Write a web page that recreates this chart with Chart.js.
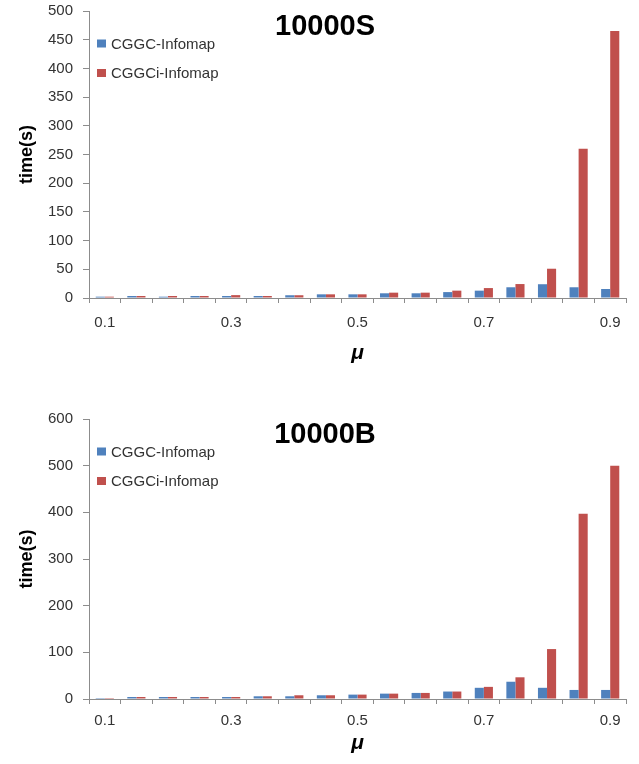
<!DOCTYPE html>
<html>
<head>
<meta charset="utf-8">
<script src="https://cdn.jsdelivr.net/npm/chart.js@4"></script>
<style>
  html, body { margin: 0; padding: 0; background: #fff; }
  .box { position: absolute; left: 0; width: 639px; height: 382px; }
</style>
</head>
<body>
<div class="box" style="top:0"><canvas id="c1"></canvas></div>
<div class="box" style="top:382px"><canvas id="c2"></canvas></div>
<script>
// ---- data ----
const categories = ['0.1','0.15','0.2','0.25','0.3','0.35','0.4','0.45','0.5','0.55','0.6','0.65','0.7','0.75','0.8','0.85','0.9'];
const tickLabels = ['0.1','0.3','0.5','0.7','0.9'];
const seriesNames = ['CGGC-Infomap', 'CGGCi-Infomap'];

const titleS = '10000S';
const cggcS  = [2.3, 3.5, 2.3, 3.5, 3.5, 3.5, 4.8, 6.4, 6.4, 8.2, 8.2, 10.3, 12.8, 18.7, 24, 18.7, 15.7];
const cggciS = [2.3, 3.5, 3.5, 3.5, 5.0, 3.5, 4.8, 6.4, 6.4, 9.3, 9.3, 12.8, 17.3, 24.3, 51, 260, 465];
const yTicksS = { max: 500, step: 50 };

const titleB = '10000B';
const cggcB  = [2, 4.3, 4.3, 4.3, 4.3, 5.8, 5.8, 8, 9.4, 11.5, 13, 16, 24, 37, 24, 19.4, 19.4];
const cggciB = [2, 4.3, 4.3, 4.3, 4.3, 5.8, 8, 8, 9.4, 11.5, 13, 16, 26, 46.5, 107, 397, 500];
const yTicksB = { max: 600, step: 100 };

const yTitle = 'time(s)';
const xTitle = 'μ';

// ---- styles ----
const BLUE = '#4F81BD', RED = '#C0504D';
const AXIS = '#8c8c8c', TXT = '#333333';
const FONT = '"Liberation Sans", Arial, sans-serif';

const overlay = {
  id: 'overlay',
  afterDraw(chart, args, opts) {
    const { ctx, chartArea } = chart;
    ctx.save();
    ctx.font = 'bold 29px ' + FONT;
    ctx.fillStyle = '#000';
    ctx.textAlign = 'center';
    ctx.textBaseline = 'middle';
    ctx.fillText(opts.title, 325, chartArea.top + 16);
    chart.data.datasets.forEach((ds, i) => {
      const y = chartArea.top + 32.5 + i * 29.5;
      ctx.fillStyle = ds.backgroundColor;
      ctx.fillRect(chartArea.left + 8, y - 4, 9, 8);
      ctx.fillStyle = TXT;
      ctx.font = '15px ' + FONT;
      ctx.textAlign = 'left';
      ctx.fillText(ds.label, chartArea.left + 22, y + 1);
    });
    ctx.restore();
  }
};

function makeChart(id, title, a, b, yt, cfg) {
  return new Chart(document.getElementById(id), {
    type: 'bar',
    data: {
      labels: categories,
      datasets: [
        { label: seriesNames[0], data: a, backgroundColor: BLUE },
        { label: seriesNames[1], data: b, backgroundColor: RED }
      ]
    },
    plugins: [overlay],
    options: {
      responsive: true,
      maintainAspectRatio: false,
      animation: false,
      datasets: { bar: { categoryPercentage: 0.575, barPercentage: 1.0 } },
      layout: { padding: { left: 0, right: 13, top: cfg.top, bottom: 0 } },
      plugins: {
        legend: { display: false },
        tooltip: { enabled: false },
        overlay: { title: title }
      },
      scales: {
        x: {
          grid: { display: true, drawOnChartArea: false, drawTicks: true, tickLength: 5, color: AXIS, offset: true },
          border: { display: true, color: AXIS, width: 1 },
          ticks: {
            autoSkip: false, maxRotation: 0, minRotation: 0,
            padding: cfg.xPad, color: TXT, font: { family: FONT, size: 15 },
            callback: function (v, i) { const l = categories[i]; return tickLabels.includes(l) ? l : ''; }
          },
          title: { display: true, text: xTitle, color: '#000',
                   font: { family: FONT, size: 21, weight: 'bold', style: 'italic' },
                   padding: { top: 0, bottom: cfg.xTitlePad } },
          afterFit: (s) => { s.height = cfg.xH; s.paddingLeft = 0; s.paddingRight = 0; }
        },
        y: {
          min: 0, max: yt.max,
          grid: { display: true, drawOnChartArea: false, drawTicks: true, tickLength: 6, color: AXIS },
          border: { display: true, color: AXIS, width: 1 },
          ticks: { stepSize: yt.step, padding: 10, color: TXT, font: { family: FONT, size: 15 } },
          title: { display: true, text: yTitle, color: '#000',
                   font: { family: FONT, size: 18, weight: 'bold' },
                   padding: { top: 16, bottom: 0 } },
          afterFit: (s) => { s.width = 89; s.paddingTop = 0; s.paddingBottom = 0; }
        }
      }
    }
  });
}

makeChart('c1', titleS, cggcS, cggciS, yTicksS, { top: 11, xH: 84, xPad: 11, xTitlePad: 16 });
makeChart('c2', titleB, cggcB, cggciB, yTicksB, { top: 37, xH: 65, xPad: 7.5, xTitlePad: 8 });
</script>
</body>
</html>
